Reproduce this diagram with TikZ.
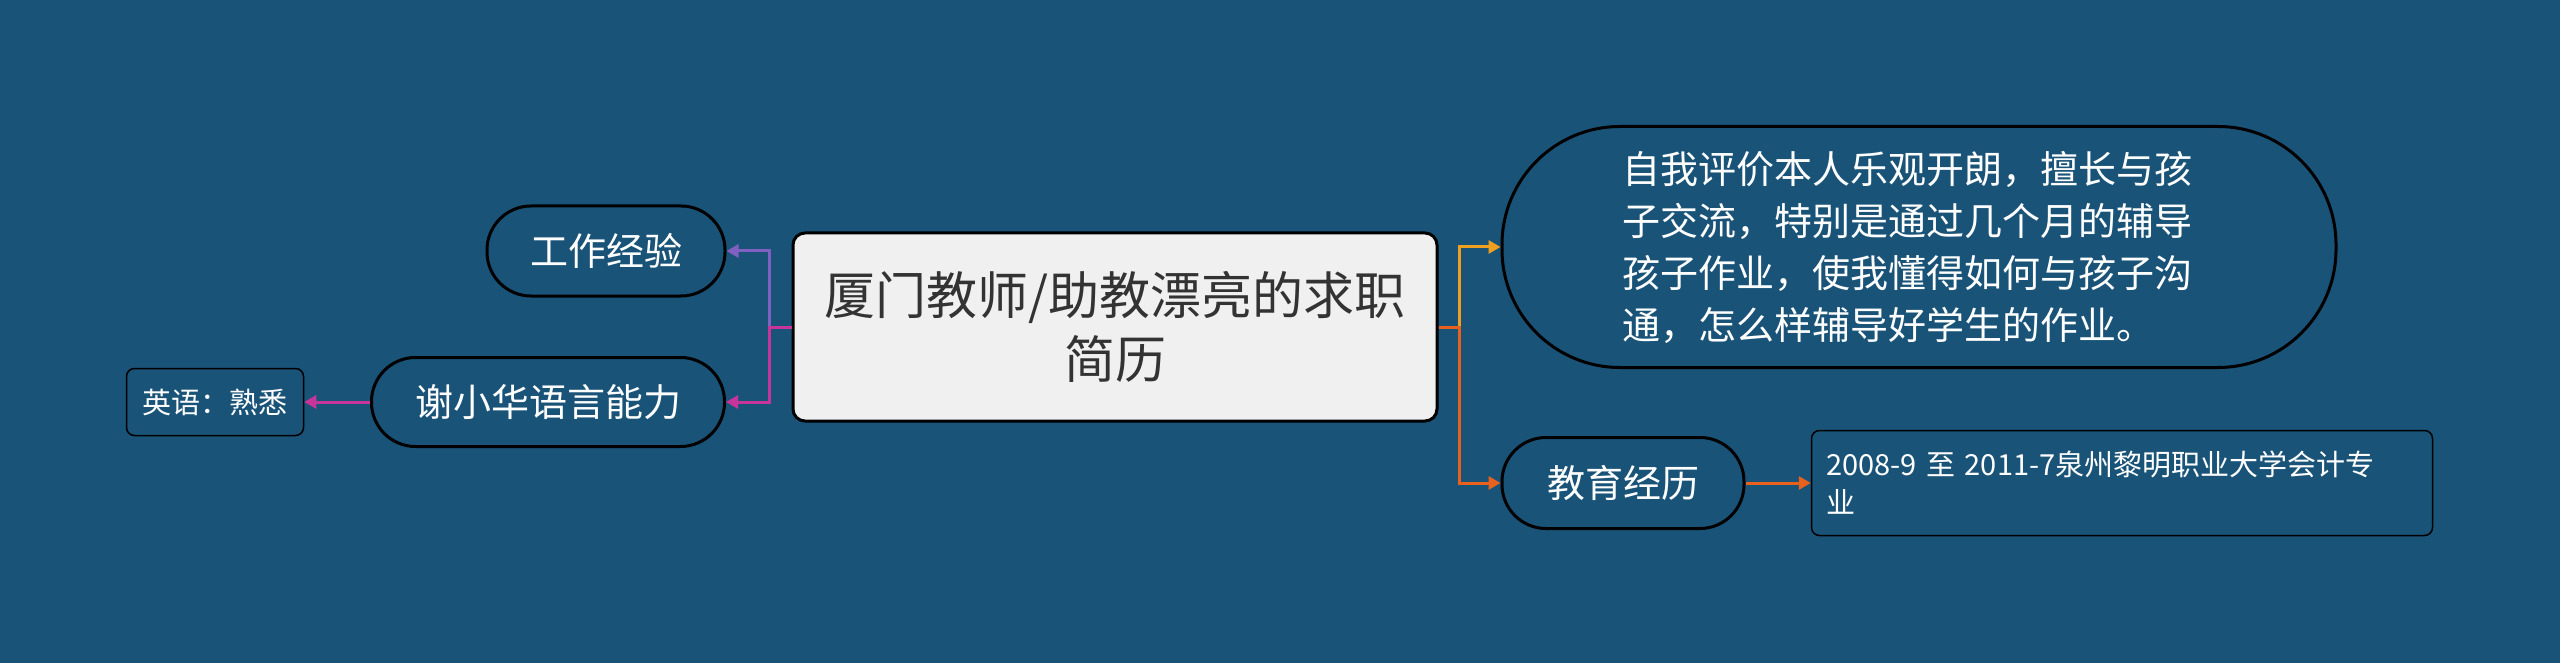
\documentclass[tikz,border=0pt]{standalone}
\usepackage{fontspec}
\newfontfamily\cjk{Noto Sans CJK SC}
\usetikzlibrary{arrows.meta}

\definecolor{bgblue}{HTML}{1A5378}
\definecolor{rootgray}{HTML}{F0F0F0}
\definecolor{rootink}{HTML}{333333}
\definecolor{violetlink}{HTML}{8060C0}
\definecolor{pinklink}{HTML}{C8359A}
\definecolor{amberlink}{HTML}{F0A020}
\definecolor{orangelink}{HTML}{E8621E}

\tikzset{
  topic/.style={draw=black, line width=3pt, fill=bgblue, text=white,
    font=\cjk\fontsize{38}{52}\selectfont, inner sep=0pt},
  leaf/.style={draw=black, line width=1.5pt, fill=bgblue, text=white,
    rounded corners=8pt, font=\cjk\fontsize{29}{38}\selectfont, inner sep=0pt},
  link/.style={line width=3pt, -{Triangle[length=12pt,width=13pt]}},
}

\begin{document}
\begin{tikzpicture}[x=1pt,y=-1pt]
  % background and page size
  \fill[bgblue] (0,0) rectangle (2560,663);
  \useasboundingbox (0,0) rectangle (2560,663);

  % central topic
  \node[draw=black, line width=3pt, fill=rootgray, rounded corners=12pt,
    minimum width=644pt, minimum height=188pt, align=center, text=rootink,
    font=\cjk\fontsize{51}{64}\selectfont] (root) at (1115,327)
    {厦门教师/助教漂亮的求职\\简历};

  % left branches
  \node[topic, rounded corners=44pt, minimum width=238pt, minimum height=90pt]
    (work) at (606,251) {工作经验};
  \node[topic, rounded corners=44pt, minimum width=353pt, minimum height=89pt]
    (lang) at (548,402) {谢小华语言能力};
  \node[leaf, minimum width=177pt, minimum height=67pt]
    (english) at (215,402) {英语：熟悉};

  % right branches
  \node[topic, rounded corners=118pt, minimum width=834pt, minimum height=241pt,
    text width=594pt, align=left] (self) at (1919,247)
    {自我评价本人乐观开朗，擅长与孩\\子交流，特别是通过几个月的辅导\\孩子作业，使我懂得如何与孩子沟\\通，怎么样辅导好学生的作业。};
  \node[topic, rounded corners=44pt, minimum width=242pt, minimum height=91pt]
    (edu) at (1623,483) {教育经历};
  \node[leaf, minimum width=621pt, minimum height=105pt, text width=592pt,
    align=left] (school) at (2122,483)
    {2008-9 至 2011-7泉州黎明职业大学会计专\\业};

  % connectors
  \draw[link, violetlink] (root.west) -- ++(-22,0) |- (work.east);
  \draw[link, pinklink] (root.west) -- ++(-22,0) |- (lang.east);
  \draw[link, pinklink] (lang.west) -- (english.east);
  \draw[link, amberlink] (root.east) -- ++(21,0) |- (self.west);
  \draw[link, orangelink] (root.east) -- ++(21,0) |- (edu.west);
  \draw[link, orangelink] (edu.east) -- (school.west);
\end{tikzpicture}
\end{document}
